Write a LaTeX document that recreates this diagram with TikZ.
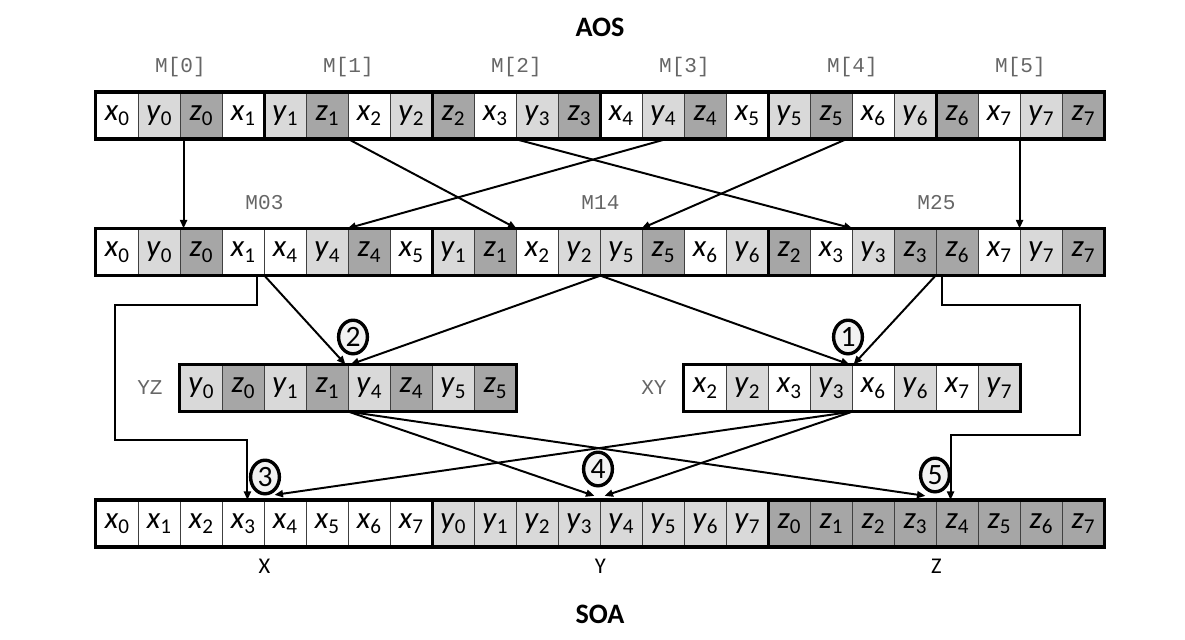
\documentclass[tikz,border=0pt]{standalone}
\usepackage{fontspec}
\setmainfont{Carlito}
\newfontfamily\monofont{Liberation Mono}
\usetikzlibrary{arrows.meta,calc,shapes.geometric}

\definecolor{fillx}{HTML}{FFFFFF}
\definecolor{filly}{HTML}{D9D9D9}
\definecolor{fillz}{HTML}{A6A6A6}
\definecolor{badgefill}{HTML}{F2F2F2}

% one element: italic letter, upright index
\newcommand{\elem}[2]{\textit{#1}\raisebox{-4pt}{\fontsize{15}{15}\selectfont #2}}

\tikzset{
  cell/.style={draw=black!75, line width=0.6pt, minimum width=1.05cm, minimum height=1.16cm,
    inner sep=0pt, font=\fontsize{22}{22}\selectfont},
  frame/.style={line width=2.6pt},
  link/.style={line width=1.4pt, -{Triangle[length=6pt,width=5pt]}},
  badge/.style={ellipse, draw, line width=2.4pt, fill=badgefill, minimum width=0.72cm,
    minimum height=0.84cm, inner sep=0pt, font=\fontsize{21}{21}\selectfont},
  memlabel/.style={font=\monofont\fontsize{15}{15}\selectfont, text=black!60},
  title/.style={font=\bfseries\fontsize{20}{20}\selectfont},
  arraylabel/.style={font=\fontsize{16}{16}\selectfont}
}

\begin{document}
\begin{tikzpicture}[x=0.025cm,y=-0.025cm]
  \useasboundingbox (0,0) rectangle (1185,639);

  % AOS row
  \foreach \i in {0,...,7}
    \foreach \v [count=\j from 0] in {x,y,z} {
      \pgfmathtruncatemacro\k{3*\i+\j}
      \node[cell, fill=fill\v] (a\k) at (117+42*\k,115.5) {\elem{\v}{\i}};
    }
  \draw[frame] (a0.north west) rectangle (a23.south east);
  \foreach \k in {3,7,11,15,19}
    \draw[frame] (a\k.north east) -- (a\k.south east);
  \foreach \g in {0,...,5} {
    \pgfmathtruncatemacro\k{4*\g+1}
    \node[memlabel] (lm\g) at ($(a\k.north east)+(0,-25)$) {M[\g]};
  }

  % shuffled registers
  \foreach \v/\i [count=\k from 0] in {x/0,y/0,z/0,x/1,x/4,y/4,z/4,x/5,
                                       y/1,z/1,x/2,y/2,y/5,z/5,x/6,y/6,
                                       z/2,x/3,y/3,z/3,z/6,x/7,y/7,z/7}
    \node[cell, fill=fill\v] (m\k) at (117+42*\k,252) {\elem{\v}{\i}};
  \draw[frame] (m0.north west) rectangle (m23.south east);
  \foreach \k in {7,15}
    \draw[frame] (m\k.north east) -- (m\k.south east);
  \foreach \n/\k in {03/3,14/11,25/19}
    \node[memlabel] (lr\n) at ($(m\k.north east)+(0,-26)$) {M\n};

  % YZ and XY
  \foreach \v/\i [count=\k from 0] in {y/0,z/0,y/1,z/1,y/4,z/4,y/5,z/5}
    \node[cell, fill=fill\v] (yz\k) at (117+42*\k+84,388) {\elem{\v}{\i}};
  \draw[frame] (yz0.north west) rectangle (yz7.south east);
  \node[memlabel, anchor=east] (lyz) at ($(yz0.west)+(-12,0)$) {YZ};
  \foreach \v/\i [count=\k from 0] in {x/2,y/2,x/3,y/3,x/6,y/6,x/7,y/7}
    \node[cell, fill=fill\v] (xy\k) at (117+42*\k+588,388) {\elem{\v}{\i}};
  \draw[frame] (xy0.north west) rectangle (xy7.south east);
  \node[memlabel, anchor=east] (lxy) at ($(xy0.west)+(-12,0)$) {XY};

  % SOA row
  \foreach \v [count=\g from 0] in {x,y,z}
    \foreach \i in {0,...,7} {
      \pgfmathtruncatemacro\k{8*\g+\i}
      \node[cell, fill=fill\v] (s\k) at (117+42*\k,523.5) {\elem{\v}{\i}};
    }
  \draw[frame] (s0.north west) rectangle (s23.south east);
  \foreach \k in {7,15}
    \draw[frame] (s\k.north east) -- (s\k.south east);
  \foreach \n/\k in {X/3,Y/11,Z/19}
    \node[arraylabel] (l\n) at ($(s\k.south east)+(0,19)$) {\n};

  % titles
  \node[title] (aos) at (600,27) {AOS};
  \node[title] (soa) at (600,614) {SOA};

  % AOS -> registers
  \draw[link] ($(a2.south west)+(4,0)$) -- ($(m2.north west)+(4,0)$);
  \draw[link] (a5.south east) -- (m9.north east);
  \draw[link] (a10.south west) -- (m17.north east);
  \draw[link] ($(a13.south)+(3,0)$) -- (m6.north west);
  \draw[link] ($(a17.south east)+(-6,0)$) -- (m13.north west);
  \draw[link] (a22.south west) -- (m22.north west);

  % registers -> YZ, XY
  \draw[link] (m3.south east) -- ($(yz3.north east)+(-3,0)$);
  \draw[link] (m11.south east) -- ($(yz4.north west)+(3,0)$);
  \draw[link] (m11.south east) -- ($(xy3.north east)+(-3,0)$);
  \draw[link] (m20.south west) -- ($(xy4.north west)+(2,0)$);

  % x and z going round
  \coordinate (bendl) at (115,440);
  \coordinate (bendr) at (1080,435);
  \draw[link] ($(m3.south east)+(-7,0)$) -- ++(0,29) -| (bendl) -| ($(s3.north east)+(-17,0)$);
  \draw[link] ($(m20.south west)+(6,0)$) -- ++(0,29) -| (bendr) -| ($(s20.north west)+(15,0)$);

  % YZ, XY -> SOA
  \draw[link] (yz3.south east) -- ($(s11.north east)+(-6,-4)$);
  \draw[link] (yz3.south east) -- ($(s19.north east)+(-11,-4)$);
  \draw[link] (xy3.south east) -- ($(s4.north west)+(11,-5)$);
  \draw[link] (xy3.south east) -- ($(s12.north west)+(5,-4)$);

  % step numbers
  \node[badge] (n1) at (848,337) {1};
  \node[badge] (n2) at (353,337) {2};
  \node[badge] (n3) at (265,477) {3};
  \node[badge] (n4) at (598,469) {4};
  \node[badge] (n5) at (935,475) {5};
\end{tikzpicture}
\end{document}
